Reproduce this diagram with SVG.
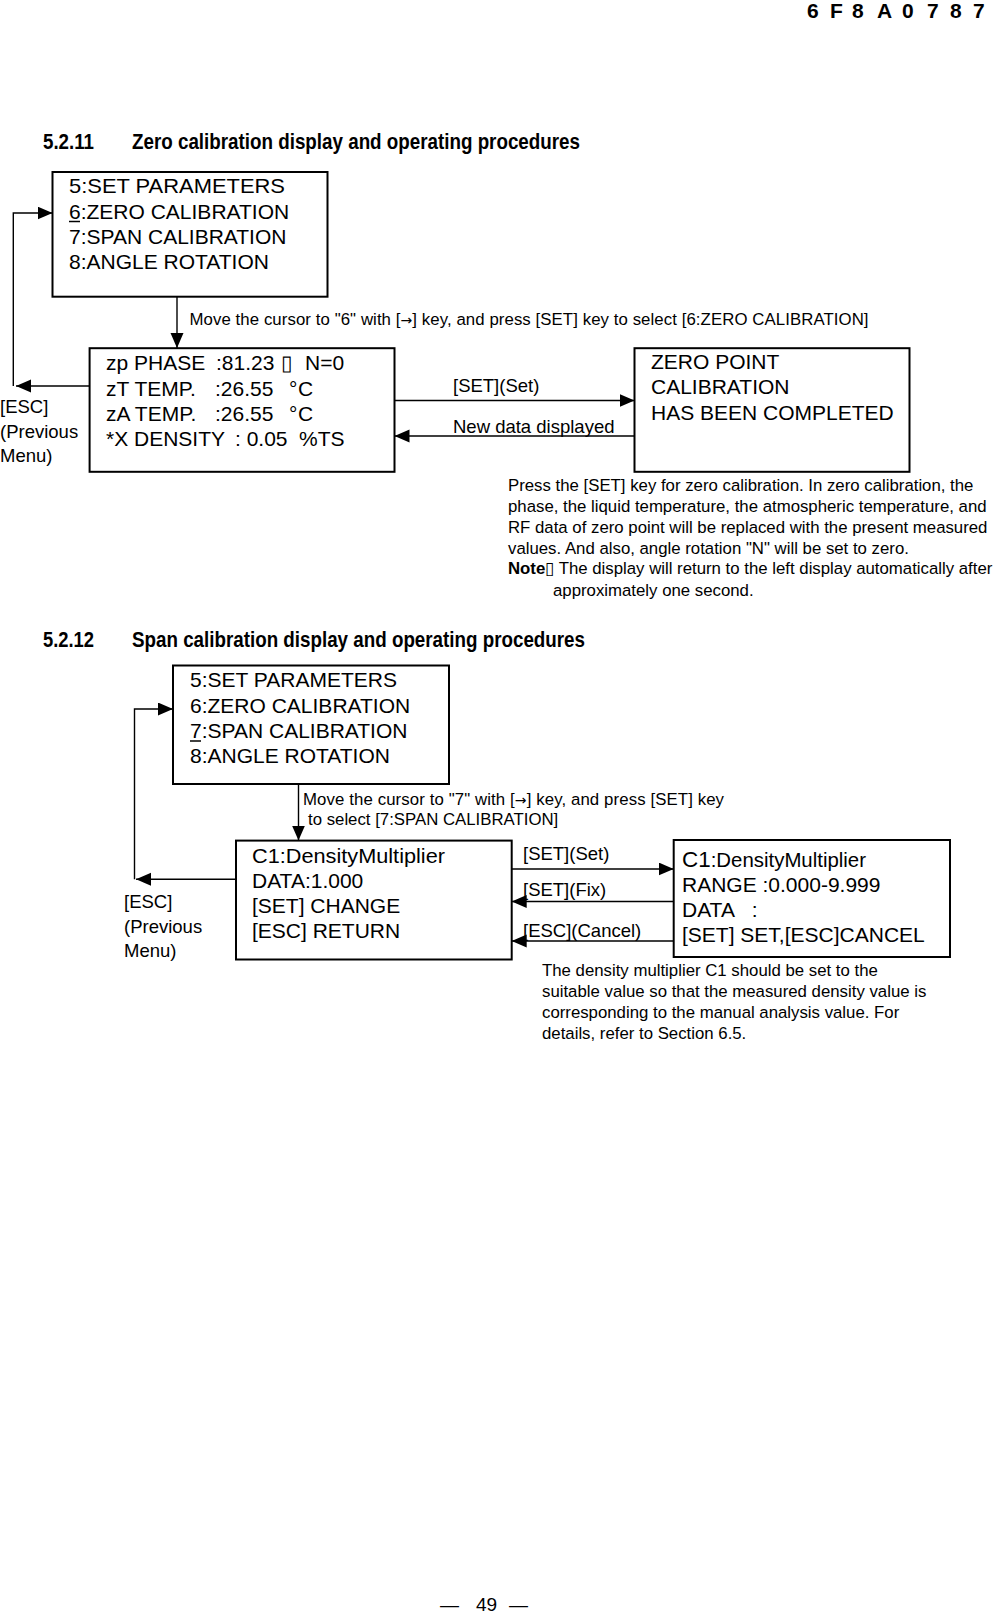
<svg xmlns="http://www.w3.org/2000/svg" width="993" height="1616" viewBox="0 0 993 1616">
<style>
text{font-family:"Liberation Sans",Arial,sans-serif;fill:#000}
.box{fill:#fff;stroke:#000;stroke-width:2}
.con{fill:none;stroke:#000;stroke-width:1.4}
.bx{font-size:21px}
.lb{font-size:18.5px}
.sm{font-size:16.8px}
.hd{font-size:22px;font-weight:bold}
.code{font-size:21px;font-weight:bold}
.ul{stroke:#000;stroke-width:1.5}
.arr{font-family:"DejaVu Sans",sans-serif;font-size:14px}
</style>
<defs>
<marker id="ah" markerUnits="userSpaceOnUse" markerWidth="16" markerHeight="14" refX="15" refY="6.5" orient="auto">
<path d="M0,0 L15,6.5 L0,13 z" fill="#000"/>
</marker>
</defs>

<text class="code" x="807 818 830 841 852 864 877 889 902 914 927 938 950 961 973" y="18">6 F 8 A 0 7 8 7</text>

<text class="hd" x="43" y="149" textLength="51" lengthAdjust="spacingAndGlyphs">5.2.11</text>
<text class="hd" x="132" y="149" textLength="448" lengthAdjust="spacingAndGlyphs">Zero calibration display and operating procedures</text>

<g id="connectors">
<path class="con" d="M177 296.7 V348" marker-end="url(#ah)"/>
<path class="con" d="M394.5 400.5 H634.5" marker-end="url(#ah)"/>
<path class="con" d="M634.5 436 H394.5" marker-end="url(#ah)"/>
<path class="con" d="M89.6 386 H16" marker-end="url(#ah)"/>
<path class="con" d="M13.3 386 V213 H52.5" marker-end="url(#ah)"/>
<path class="con" d="M298.5 784 V840.6" marker-end="url(#ah)"/>
<path class="con" d="M511.7 869 H673.7" marker-end="url(#ah)"/>
<path class="con" d="M673.7 901.5 H511.7" marker-end="url(#ah)"/>
<path class="con" d="M673.7 941 H511.7" marker-end="url(#ah)"/>
<path class="con" d="M236 879.3 H136" marker-end="url(#ah)"/>
<path class="con" d="M134.5 879.3 V709 H173" marker-end="url(#ah)"/>
</g>

<g id="menu1">
<rect class="box" x="52.5" y="172" width="275" height="124.7"/>
<text class="bx" x="69" y="193" textLength="216" lengthAdjust="spacingAndGlyphs">5:SET PARAMETERS</text>
<text class="bx" x="69" y="218.5">6:ZERO CALIBRATION</text>
<line class="ul" x1="69" y1="221.5" x2="80" y2="221.5"/>
<text class="bx" x="69" y="244">7:SPAN CALIBRATION</text>
<text class="bx" x="69" y="269">8:ANGLE ROTATION</text>
</g>

<g id="zero-display">
<rect class="box" x="89.6" y="348.2" width="304.9" height="123.6"/>
<text class="bx" y="370"><tspan x="106">zp PHASE</tspan><tspan x="216">:81.23</tspan><tspan x="281">▯</tspan><tspan x="305">N=0</tspan></text>
<text class="bx" y="396"><tspan x="106">zT TEMP.</tspan><tspan x="215">:26.55</tspan><tspan x="289">°</tspan><tspan x="298">C</tspan></text>
<text class="bx" y="421"><tspan x="106">zA TEMP.</tspan><tspan x="215">:26.55</tspan><tspan x="289">°</tspan><tspan x="298">C</tspan></text>
<text class="bx" y="446"><tspan x="106">*X DENSITY</tspan><tspan x="235">: 0.05</tspan><tspan x="299">%TS</tspan></text>
</g>

<g id="zero-complete">
<rect class="box" x="634.5" y="348.2" width="275" height="123.6"/>
<text class="bx" x="651" y="369">ZERO POINT</text>
<text class="bx" x="651" y="394">CALIBRATION</text>
<text class="bx" x="651" y="419.5">HAS BEEN COMPLETED</text>
</g>

<g id="labels1">
<text class="sm" x="189.5" y="324.5" textLength="679" lengthAdjust="spacing">Move the cursor to "6" with [<tspan class="arr">→</tspan>] key, and press [SET] key to select [6:ZERO CALIBRATION]</text>
<text class="lb" x="453" y="392">[SET](Set)</text>
<text class="lb" x="453" y="432.5">New data displayed</text>
<text class="lb" x="0" y="413">[ESC]</text>
<text class="lb" x="0" y="437.5">(Previous</text>
<text class="lb" x="0" y="462">Menu)</text>
<text class="sm" x="508" y="491">Press the [SET] key for zero calibration. In zero calibration, the</text>
<text class="sm" x="508" y="511.5">phase, the liquid temperature, the atmospheric temperature, and</text>
<text class="sm" x="508" y="532.5">RF data of zero point will be replaced with the present measured</text>
<text class="sm" x="508" y="553.5">values. And also, angle rotation "N" will be set to zero.</text>
<text class="sm" x="508" y="573.5"><tspan font-weight="bold">Note</tspan>▯ The display will return to the left display automatically after</text>
<text class="sm" x="553" y="595.5">approximately one second.</text>
</g>

<text class="hd" x="43" y="646.5" textLength="51" lengthAdjust="spacingAndGlyphs">5.2.12</text>
<text class="hd" x="132" y="646.5" textLength="453" lengthAdjust="spacingAndGlyphs">Span calibration display and operating procedures</text>

<g id="menu2">
<rect class="box" x="173" y="665.5" width="276" height="118.5"/>
<text class="bx" x="190" y="687">5:SET PARAMETERS</text>
<text class="bx" x="190" y="712.5">6:ZERO CALIBRATION</text>
<text class="bx" x="190" y="738">7:SPAN CALIBRATION</text>
<line class="ul" x1="190" y1="741" x2="201" y2="741"/>
<text class="bx" x="190" y="762.5">8:ANGLE ROTATION</text>
</g>

<g id="c1-display">
<rect class="box" x="236" y="840.6" width="275.7" height="118.9"/>
<text class="bx" x="252" y="863" textLength="193" lengthAdjust="spacingAndGlyphs">C1:DensityMultiplier</text>
<text class="bx" x="252" y="887.5">DATA:1.000</text>
<text class="bx" x="252" y="913">[SET] CHANGE</text>
<text class="bx" x="252" y="937.5">[ESC] RETURN</text>
</g>

<g id="c1-edit">
<rect class="box" x="673.7" y="840" width="276.3" height="117"/>
<text class="bx" x="682" y="866.5" textLength="184" lengthAdjust="spacingAndGlyphs"><tspan font-size="22">C1</tspan><tspan font-size="20">:DensityMultiplier</tspan></text>
<text class="bx" x="682" y="892">RANGE :0.000-9.999</text>
<text class="bx" y="917"><tspan x="682">DATA</tspan><tspan x="746"> :</tspan></text>
<text class="bx" x="682" y="941.5">[SET] SET,[ESC]CANCEL</text>
</g>

<g id="labels2">
<text class="sm" x="303" y="804.5" textLength="421" lengthAdjust="spacing">Move the cursor to "7" with [<tspan class="arr">→</tspan>] key, and press [SET] key</text>
<text class="sm" x="308" y="825">to select [7:SPAN CALIBRATION]</text>
<text class="lb" x="523" y="859.5">[SET](Set)</text>
<text class="lb" x="523" y="896">[SET](Fix)</text>
<text class="lb" x="523" y="936.5">[ESC](Cancel)</text>
<text class="lb" x="124" y="908">[ESC]</text>
<text class="lb" x="124" y="933">(Previous</text>
<text class="lb" x="124" y="957">Menu)</text>
<text class="sm" x="542" y="976">The density multiplier C1 should be set to the</text>
<text class="sm" x="542" y="997">suitable value so that the measured density value is</text>
<text class="sm" x="542" y="1018">corresponding to the manual analysis value. For</text>
<text class="sm" x="542" y="1038.5">details, refer to Section 6.5.</text>
</g>

<text font-size="19" y="1611"><tspan x="440">—</tspan><tspan x="476">49</tspan><tspan x="509">—</tspan></text>
</svg>
